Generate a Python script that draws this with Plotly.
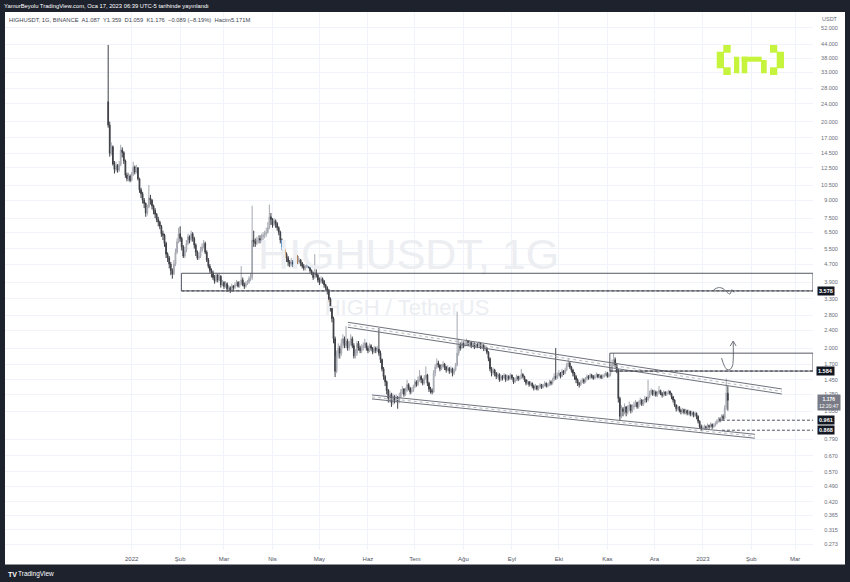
import math
import pandas as pd
import plotly.graph_objects as go

# ---------------- data (daily candles, HIGHUSDT, Binance) ----------------
first_open = 24.5
close = [
    19.3, 14.5, 15.5, 13.0, 12.3, 12.8, 12.2, 12.9, 15.0, 14.6,
    13.4, 11.6, 11.2, 11.5, 11.0, 11.7, 12.6, 12.0, 12.5, 11.2,
    10.0, 9.6, 9.0, 8.7, 7.9, 8.4, 9.2, 9.0, 8.5, 8.1,
    7.8, 7.4, 7.2, 6.9, 6.4, 6.3, 5.8, 5.2, 5.0, 4.7,
    4.4, 4.25, 4.7, 5.3, 5.9, 6.4, 6.1, 5.6, 5.1, 5.4,
    5.8, 6.2, 6.0, 6.4, 6.1, 5.7, 5.3, 5.0, 5.1, 5.4,
    5.6, 5.8, 5.3, 4.9, 4.6, 4.4, 4.3, 4.1, 3.95, 4.2,
    4.0, 4.15, 3.8, 3.9, 3.75, 3.85, 3.65, 3.7, 3.6, 3.75,
    3.7, 3.8, 3.9, 3.75, 3.85, 4.0, 3.8, 3.75, 3.85, 3.9,
    4.05, 4.1, 6.0, 5.9, 5.8, 6.0, 6.1, 6.0, 6.2, 6.3,
    6.4, 6.5, 6.8, 7.6, 7.4, 7.0, 7.3, 7.1, 6.8, 6.5,
    6.0, 5.6, 5.4, 5.2, 5.0, 4.8, 4.7, 4.8, 4.7, 5.0,
    5.1, 4.8, 4.9, 4.75, 4.6, 4.5, 4.55, 4.7, 4.6, 4.4,
    4.3, 4.1, 4.3, 4.2, 4.0, 3.9, 4.05, 3.95, 3.8, 3.7,
    3.6, 3.3, 3.0, 2.7, 2.2, 1.58, 1.85, 2.0, 1.9, 2.1,
    2.2, 2.05, 2.15, 2.0, 2.1, 2.2, 2.05, 1.85, 1.9, 2.1,
    2.0, 1.95, 2.0, 2.05, 2.1, 2.0, 1.95, 2.05, 2.0, 1.92,
    2.0, 1.95, 1.98, 1.9, 1.78, 1.62, 1.5, 1.42, 1.3, 1.2,
    1.25, 1.15, 1.22, 1.18, 1.2, 1.16, 1.22, 1.28, 1.32, 1.25,
    1.3, 1.38, 1.33, 1.28, 1.3, 1.35, 1.42, 1.38, 1.45, 1.5,
    1.45, 1.4, 1.48, 1.52, 1.4, 1.32, 1.3, 1.28, 1.55, 1.65,
    1.72, 1.68, 1.62, 1.66, 1.7, 1.65, 1.6, 1.63, 1.58, 1.62,
    1.55, 1.6, 1.68, 1.9, 2.05, 2.0, 2.1, 2.05, 2.1, 2.15,
    2.08, 2.12, 2.05, 2.1, 2.02, 2.08, 2.05, 2.1, 2.02, 2.06,
    1.98, 2.0, 1.92, 1.8, 1.62, 1.55, 1.6, 1.55, 1.5, 1.53,
    1.45, 1.5, 1.48, 1.52, 1.45, 1.5, 1.47, 1.52, 1.48, 1.42,
    1.45, 1.5, 1.46, 1.48, 1.53, 1.5, 1.45, 1.4, 1.42, 1.38,
    1.4, 1.36, 1.33, 1.36, 1.32, 1.35, 1.38, 1.34, 1.37, 1.4,
    1.36, 1.38, 1.42, 1.4, 1.45, 1.5, 1.48, 1.52, 1.55, 1.5,
    1.58, 1.55, 1.6, 1.68, 1.72, 1.65, 1.6, 1.55, 1.5, 1.45,
    1.4, 1.38, 1.42, 1.45, 1.42, 1.46, 1.5, 1.48, 1.52, 1.5,
    1.47, 1.5, 1.53, 1.49, 1.51, 1.48, 1.5, 1.52, 1.55, 1.5,
    1.53, 1.6, 1.7, 1.78, 1.68, 1.6, 1.2, 1.0, 1.08, 1.05,
    1.1, 1.04, 1.08, 1.12, 1.06, 1.1, 1.12, 1.15, 1.1, 1.14,
    1.18, 1.13, 1.16, 1.2, 1.18, 1.22, 1.26, 1.3, 1.25, 1.28,
    1.24, 1.27, 1.3, 1.26, 1.24, 1.28, 1.25, 1.27, 1.29, 1.26,
    1.22, 1.18, 1.12, 1.08, 1.1, 1.06, 1.05, 1.07, 1.04, 1.06,
    1.03, 1.05, 1.02, 1.04, 1.01, 1.03, 1.0, 0.95, 0.9, 0.88,
    0.89, 0.9, 0.89, 0.91, 0.9, 0.92, 0.9, 0.91, 0.93, 0.95,
    0.97, 0.96, 1.0, 0.98, 1.09, 1.265, 1.176,
]
high = [
    43.6, 20.0, 16.2, 15.7, 13.4, 13.3, 13.0, 13.4, 15.8, 15.4,
    14.8, 13.6, 11.9, 11.9, 11.7, 12.0, 13.3, 12.8, 12.9, 12.6,
    11.3, 10.2, 9.8, 9.2, 8.8, 8.6, 10.5, 9.5, 9.1, 8.6,
    8.3, 7.9, 7.6, 7.3, 7.0, 6.6, 6.4, 5.9, 5.3, 5.1,
    4.8, 4.5, 4.9, 5.5, 6.1, 6.8, 6.9, 6.2, 5.7, 5.6,
    6.0, 6.4, 6.3, 6.6, 6.5, 6.2, 5.8, 5.4, 5.3, 5.6,
    5.8, 6.0, 5.9, 5.4, 5.0, 4.7, 4.5, 4.4, 4.2, 4.3,
    4.25, 4.3, 4.2, 4.0, 3.95, 3.95, 3.9, 3.8, 3.75, 3.85,
    3.8, 3.9, 4.0, 3.95, 3.95, 4.6, 4.1, 3.9, 3.95, 4.0,
    4.15, 4.3, 8.5, 6.6, 6.1, 6.2, 6.3, 6.3, 6.4, 6.5,
    6.6, 6.8, 7.2, 8.6, 7.9, 7.5, 7.5, 7.4, 7.2, 6.9,
    6.6, 6.1, 5.7, 5.5, 5.3, 5.1, 4.9, 5.0, 4.9, 5.1,
    5.4, 5.15, 5.0, 4.95, 4.8, 4.7, 4.65, 4.8, 4.75, 4.65,
    4.45, 4.35, 5.2, 4.45, 4.25, 4.1, 4.15, 4.1, 4.0, 3.85,
    3.75, 3.65, 3.35, 3.05, 2.75, 2.25, 1.95, 2.1, 2.05, 2.2,
    2.3, 2.25, 2.5, 2.2, 2.15, 2.3, 2.25, 2.1, 1.98, 2.15,
    2.15, 2.05, 2.08, 2.12, 2.2, 2.12, 2.05, 2.1, 2.08, 2.02,
    2.05, 2.03, 2.04, 2.45, 1.95, 1.8, 1.65, 1.52, 1.44, 1.32,
    1.3, 1.27, 1.26, 1.24, 1.25, 1.23, 1.27, 1.32, 1.36, 1.33,
    1.34, 1.45, 1.4, 1.35, 1.34, 1.38, 1.46, 1.44, 1.5, 1.6,
    1.52, 1.47, 1.52, 1.66, 1.54, 1.42, 1.35, 1.33, 1.6, 1.7,
    1.8, 1.76, 1.7, 1.7, 1.75, 1.72, 1.67, 1.68, 1.65, 1.66,
    1.64, 1.64, 1.72, 2.9, 2.2, 2.12, 2.15, 2.14, 2.15, 2.2,
    2.17, 2.16, 2.14, 2.13, 2.12, 2.11, 2.1, 2.14, 2.12, 2.1,
    2.08, 2.04, 2.02, 1.94, 1.82, 1.65, 1.64, 1.62, 1.57, 1.56,
    1.55, 1.53, 1.52, 1.55, 1.53, 1.53, 1.52, 1.55, 1.53, 1.49,
    1.48, 1.53, 1.51, 1.51, 1.62, 1.55, 1.51, 1.46, 1.45, 1.43,
    1.43, 1.41, 1.38, 1.39, 1.37, 1.37, 1.4, 1.39, 1.39, 1.43,
    1.41, 1.4, 1.45, 1.44, 1.48, 1.55, 2.0, 1.56, 1.6, 1.57,
    1.62, 1.6, 1.64, 1.72, 1.8, 1.74, 1.67, 1.62, 1.57, 1.52,
    1.47, 1.42, 1.45, 1.48, 1.47, 1.49, 1.53, 1.52, 1.55, 1.54,
    1.52, 1.53, 1.56, 1.54, 1.54, 1.53, 1.53, 1.55, 1.58, 1.57,
    1.56, 1.65, 1.78, 1.9, 1.82, 1.72, 1.62, 1.22, 1.12, 1.1,
    1.14, 1.11, 1.12, 1.16, 1.13, 1.13, 1.16, 1.18, 1.16, 1.17,
    1.21, 1.19, 1.19, 1.23, 1.22, 1.45, 1.3, 1.33, 1.31, 1.31,
    1.3, 1.29, 1.36, 1.31, 1.28, 1.3, 1.29, 1.29, 1.31, 1.3,
    1.27, 1.23, 1.19, 1.13, 1.12, 1.11, 1.08, 1.09, 1.08, 1.08,
    1.07, 1.07, 1.06, 1.06, 1.05, 1.05, 1.04, 1.01, 0.96, 0.92,
    0.91, 0.92, 0.91, 0.93, 0.92, 0.94, 0.93, 0.93, 0.95, 0.97,
    0.99, 0.99, 1.02, 1.02, 1.12, 1.47, 1.359,
]
low = [
    18.8, 14.0, 14.2, 12.8, 11.8, 12.0, 11.9, 12.0, 12.7, 13.9,
    13.0, 11.3, 10.9, 10.9, 10.8, 10.9, 11.5, 11.7, 11.8, 11.0,
    9.7, 9.2, 8.7, 8.3, 7.6, 7.7, 8.3, 8.6, 8.2, 7.8,
    7.5, 7.2, 6.9, 6.7, 6.2, 6.0, 5.6, 5.0, 4.8, 4.5,
    4.2, 4.05, 4.2, 4.6, 5.2, 5.8, 5.9, 5.4, 5.0, 5.0,
    5.3, 5.7, 5.8, 5.9, 5.9, 5.5, 5.1, 4.9, 4.9, 5.0,
    5.3, 5.5, 5.2, 4.8, 4.5, 4.3, 4.1, 4.0, 3.85, 3.9,
    3.9, 3.95, 3.7, 3.75, 3.65, 3.7, 3.55, 3.6, 3.5, 3.55,
    3.6, 3.65, 3.75, 3.7, 3.7, 3.8, 3.75, 3.65, 3.7, 3.8,
    3.85, 3.95, 4.0, 5.6, 5.6, 5.7, 5.8, 5.8, 5.9, 6.0,
    6.1, 6.2, 6.4, 6.7, 7.0, 6.8, 6.9, 6.8, 6.6, 6.3,
    5.8, 5.4, 5.2, 5.0, 4.8, 4.6, 4.55, 4.6, 4.55, 4.65,
    4.9, 4.7, 4.7, 4.6, 4.5, 4.4, 4.4, 4.5, 4.5, 4.3,
    4.2, 4.0, 4.05, 4.1, 3.9, 3.8, 3.85, 3.85, 3.7, 3.6,
    3.45, 3.2, 2.9, 2.6, 2.1, 1.49, 1.55, 1.8, 1.8, 1.85,
    2.0, 2.0, 2.0, 1.95, 1.95, 2.05, 2.0, 1.8, 1.8, 1.85,
    1.95, 1.9, 1.9, 1.95, 2.0, 1.95, 1.9, 1.92, 1.95, 1.88,
    1.9, 1.9, 1.92, 1.85, 1.72, 1.58, 1.45, 1.36, 1.25, 1.15,
    1.15, 1.1, 1.12, 1.14, 1.15, 1.08, 1.14, 1.2, 1.25, 1.22,
    1.23, 1.28, 1.3, 1.25, 1.26, 1.28, 1.33, 1.35, 1.36, 1.42,
    1.4, 1.37, 1.38, 1.45, 1.36, 1.28, 1.26, 1.25, 1.27, 1.5,
    1.62, 1.64, 1.58, 1.6, 1.63, 1.6, 1.56, 1.58, 1.54, 1.55,
    1.5, 1.52, 1.58, 1.66, 1.85, 1.95, 1.98, 2.0, 2.02, 2.05,
    2.04, 2.05, 2.0, 2.02, 1.98, 2.0, 2.0, 2.02, 1.98, 1.99,
    1.94, 1.94, 1.88, 1.75, 1.58, 1.5, 1.52, 1.5, 1.46, 1.47,
    1.42, 1.43, 1.44, 1.46, 1.42, 1.43, 1.44, 1.45, 1.45, 1.39,
    1.4, 1.43, 1.43, 1.44, 1.46, 1.47, 1.42, 1.37, 1.38, 1.35,
    1.36, 1.33, 1.3, 1.31, 1.3, 1.3, 1.33, 1.32, 1.33, 1.35,
    1.34, 1.34, 1.36, 1.37, 1.38, 1.43, 1.45, 1.46, 1.5, 1.47,
    1.49, 1.52, 1.53, 1.58, 1.65, 1.62, 1.56, 1.5, 1.45, 1.4,
    1.36, 1.34, 1.36, 1.4, 1.39, 1.4, 1.44, 1.45, 1.46, 1.47,
    1.45, 1.46, 1.48, 1.47, 1.47, 1.46, 1.46, 1.48, 1.5, 1.48,
    1.48, 1.5, 1.58, 1.66, 1.64, 1.55, 1.15, 0.96, 0.98, 1.0,
    1.02, 1.0, 1.02, 1.05, 1.03, 1.04, 1.07, 1.1, 1.08, 1.08,
    1.12, 1.11, 1.11, 1.14, 1.15, 1.16, 1.2, 1.24, 1.23, 1.23,
    1.22, 1.22, 1.25, 1.24, 1.21, 1.22, 1.23, 1.23, 1.25, 1.24,
    1.19, 1.15, 1.1, 1.05, 1.06, 1.04, 1.02, 1.03, 1.02, 1.02,
    1.01, 1.01, 1.0, 1.0, 0.99, 0.99, 0.97, 0.93, 0.88, 0.86,
    0.865, 0.87, 0.87, 0.88, 0.88, 0.89, 0.88, 0.89, 0.9, 0.92,
    0.94, 0.94, 0.95, 0.96, 0.97, 1.07, 1.059,
]
start_date = "2021-12-17"
dates = pd.date_range(start_date, periods=len(close), freq="D")
open_ = [first_open] + close[:-1]   # daily open = previous close

# axis ticks
month_ticks = pd.date_range("2022-01-01", "2023-03-01", freq="MS")
month_labels = ["2022", "Şub", "Mar", "Nis", "May", "Haz", "Tem", "Ağu",
                "Eyl", "Eki", "Kas", "Ara", "2023", "Şub", "Mar"]
price_ticks = [52, 44, 38, 33, 28, 24, 20, 17, 14.5, 12.5, 10.5, 9, 7.5, 6.5,
               5.5, 4.7, 3.9, 3.3, 2.8, 2.4, 2.0, 1.7, 1.45, 1.25, 1.05, 0.79,
               0.67, 0.57, 0.49, 0.42, 0.365, 0.315, 0.273]
price_labels = ["52.000", "44.000", "38.000", "33.000", "28.000", "24.000",
                "20.000", "17.000", "14.500", "12.500", "10.500", "9.000",
                "7.500", "6.500", "5.500", "4.700", "3.900", "3.300", "2.800",
                "2.400", "2.000", "1.700", "1.450", "1.250", "1.050", "0.790",
                "0.670", "0.570", "0.490", "0.420", "0.365", "0.315", "0.273"]

x_range = ["2021-10-12 01:30", "2023-03-12 10:00"]
y_range_log = [-0.5903, 1.785]

# drawings (dates / prices)
resist_low, resist_high, resist_start = 3.578, 4.28, "2022-02-01 19:00"
box_low, box_high, box_start = 1.584, 1.90, "2022-11-02 14:00"
support_levels = [0.961, 0.868]
support_start = "2023-01-13 05:00"
upper_dates, upper_prices, upper_gap = ["2022-05-19 05:00", "2023-02-20 12:00"], [2.60, 1.32], 1.052
lower_dates, lower_prices, lower_gap = ["2022-06-03 14:00", "2023-02-03 07:00"], [1.242, 0.833], 1.041
arrow_dates = ["2023-01-13 00:00", "2023-01-14 12:00", "2023-01-16 10:00", "2023-01-18 07:00",
               "2023-01-19 22:00", "2023-01-20 10:00", "2023-01-20 10:00"]
arrow_prices = [1.809, 1.685, 1.609, 1.609, 1.668, 1.772, 2.149]
arrowhead_dates = ["2023-01-18 12:00", "2023-01-20 10:00", "2023-01-22 07:00"]
arrowhead_prices = [2.043, 2.149, 2.043]
wave_dates = ["2023-01-08 00:00", "2023-01-11 00:00", "2023-01-14 00:00", "2023-01-17 00:00",
              "2023-01-18 12:00", "2023-01-19 12:00", "2023-01-21 00:00"]
wave_prices = [3.62, 3.70, 3.66, 3.50, 3.47, 3.62, 3.52]

FONT = "Liberation Sans"
DRAW = "#6f727c"

fig = go.Figure()

# watermark (below candles)
fig.add_trace(go.Scatter(x=["2022-06-27 00:00"], y=[5.0], mode="text", text=["HIGHUSDT, 1G"],
                         textfont=dict(size=43, color="#eceef2", family=FONT), hoverinfo="skip"))
fig.add_trace(go.Scatter(x=["2022-06-26 00:00"], y=[2.95], mode="text", text=["HIGH / TetherUS"],
                         textfont=dict(size=22, color="#eceef2", family=FONT), hoverinfo="skip"))

fig.add_trace(go.Candlestick(
    x=dates, open=open_, high=high, low=low, close=close,
    increasing=dict(line=dict(color="#a5a8b0", width=1), fillcolor="#c4c6cc"),
    decreasing=dict(line=dict(color="#3d3f45", width=1), fillcolor="#3d3f45"),
    whiskerwidth=0, hoverinfo="skip"))

def line(xs, ys, color=DRAW, width=1, dash="solid", shape="linear"):
    fig.add_trace(go.Scatter(x=xs, y=ys, mode="lines", hoverinfo="skip",
                             line=dict(color=color, width=width, dash=dash, shape=shape)))

# channels
for dts, prs, gap in [(upper_dates, upper_prices, upper_gap), (lower_dates, lower_prices, lower_gap)]:
    line(dts, prs)
    line(dts, [p / gap for p in prs])
    line(dts, [p / math.sqrt(gap) for p in prs], color="#b8bac0", dash="dot")

# horizontal dashed levels
line([resist_start, x_range[1]], [resist_low] * 2, color="#2a2e39", dash="3px,2px")
line([box_start, x_range[1]], [box_low] * 2, color="#2a2e39", dash="3px,2px")
for lvl in support_levels:
    line([support_start, x_range[1]], [lvl] * 2, color="#50535e", dash="3px,2px")

# arrow + wave
line(arrow_dates, arrow_prices, shape="spline")
line(arrowhead_dates, arrowhead_prices)
line(wave_dates, wave_prices, shape="spline")

shapes = []
shapes.append(dict(type="rect", xref="x", yref="y", x0=resist_start, x1=x_range[1],
                   y0=resist_low, y1=resist_high,
                   line=dict(color="#555862", width=1), fillcolor="rgba(0,0,0,0)"))
shapes.append(dict(type="rect", xref="x", yref="y", x0=box_start, x1=x_range[1],
                   y0=box_low, y1=box_high,
                   line=dict(color="#555862", width=1), fillcolor="rgba(0,0,0,0)"))

# page frame helpers (pixel -> paper)
L, R, T, B = 5, 813, 12, 550
def px(xp, yp):
    return (xp - L) / (R - L), (B - yp) / (B - T)

x0, y0 = px(5, 564.5)
x1, y1 = px(845, 12)
shapes.append(dict(type="rect", xref="paper", yref="paper", x0=x0, x1=x1, y0=y0, y1=y1,
                   fillcolor="white", line=dict(width=0), layer="below"))

# logo "[in]" pixel blocks
LIME = "#c6f33c"
logo_blocks = [(723.3, 45, 730.7, 52.7), (716.7, 51.7, 724, 68.3), (723.3, 67.3, 730.7, 75),
               (734, 56.7, 739.3, 73.3), (741.7, 56.7, 747.3, 73.3), (741.7, 56.7, 761.7, 61.7),
               (761, 60, 766.7, 73.3), (770, 45, 777.3, 52.7), (776.7, 51.7, 784, 68.3),
               (770, 67.3, 777.3, 75)]
for (a, b, c, d) in logo_blocks:
    xa, yb = px(a, d)
    xc, yd = px(c, b)
    shapes.append(dict(type="rect", xref="paper", yref="paper", x0=xa, x1=xc, y0=yb, y1=yd,
                       fillcolor=LIME, line=dict(width=0)))

annotations = []
def ann_px(xp, yp, text, size=5.8, color="#50535e", anchor="left", **kw):
    ax, ay = px(xp, yp)
    annotations.append(dict(x=ax, y=ay, xref="paper", yref="paper", text=text, showarrow=False,
                            xanchor=anchor, yanchor="middle",
                            font=dict(size=size, color=color, family=FONT), **kw))

ann_px(2, 6, "YamurBeyolu TradingView.com, Oca 17, 2023 06:39 UTC-5 tarihinde yayınlandı", color="white")
ann_px(7, 20, "HIGHUSDT, 1G, BINANCE  A1.087  Y1.359  D1.059  K1.176  −0.089 (−8.19%)  Hacim5.171M",
       color="#434651")
ann_px(820, 19, "USDT", size=5.5, color="#6a6d78")
ann_px(6, 574, "<b>TV</b>", size=7, color="white")
ann_px(16, 574, "TradingView", size=6.5, color="white")

label_x = px(826, 0)[0]
for val in [resist_low, box_low] + support_levels:
    annotations.append(dict(x=label_x, y=math.log10(val), xref="paper", yref="y",
                            text=f"<b>{val:.3f}</b>", showarrow=False, xanchor="center",
                            yanchor="middle", bgcolor="#131722", borderpad=1,
                            font=dict(size=5.5, color="white", family=FONT)))
annotations.append(dict(x=px(829, 0)[0], y=math.log10(close[-1]), xref="paper", yref="y",
                        text=f"<b>{close[-1]:.3f}</b><br>12:20:47", showarrow=False,
                        xanchor="center", yanchor="middle", yshift=-2, bgcolor="#787b86",
                        borderpad=1, font=dict(size=5, color="white", family=FONT)))

fig.update_layout(
    width=850, height=582, margin=dict(l=L, r=850 - R, t=T, b=582 - B),
    paper_bgcolor="#1e222d", plot_bgcolor="white", showlegend=False,
    shapes=shapes, annotations=annotations,
    xaxis=dict(type="date", range=x_range, tickvals=list(month_ticks), ticktext=month_labels,
               showgrid=True, gridcolor="#f0f3fa", gridwidth=1, zeroline=False, showline=False,
               ticks="outside", ticklen=3, tickcolor="rgba(0,0,0,0)",
               tickfont=dict(size=6, color="#50535e", family=FONT),
               rangeslider=dict(visible=False), fixedrange=True),
    yaxis=dict(type="log", side="right", range=y_range_log, tickvals=price_ticks,
               ticktext=[("\u2007" + t) if len(t) == 5 else t for t in price_labels],
               showgrid=True, gridcolor="#f0f3fa", gridwidth=1, zeroline=False, showline=False,
               ticks="outside", ticklen=6, tickcolor="rgba(0,0,0,0)",
               tickfont=dict(size=5.5, color="#6a6d78", family=FONT), fixedrange=True),
)

fig.write_html("out.html", config={"displayModeBar": False},
               post_script="document.body.style.margin='0';document.body.style.overflow='hidden';")
